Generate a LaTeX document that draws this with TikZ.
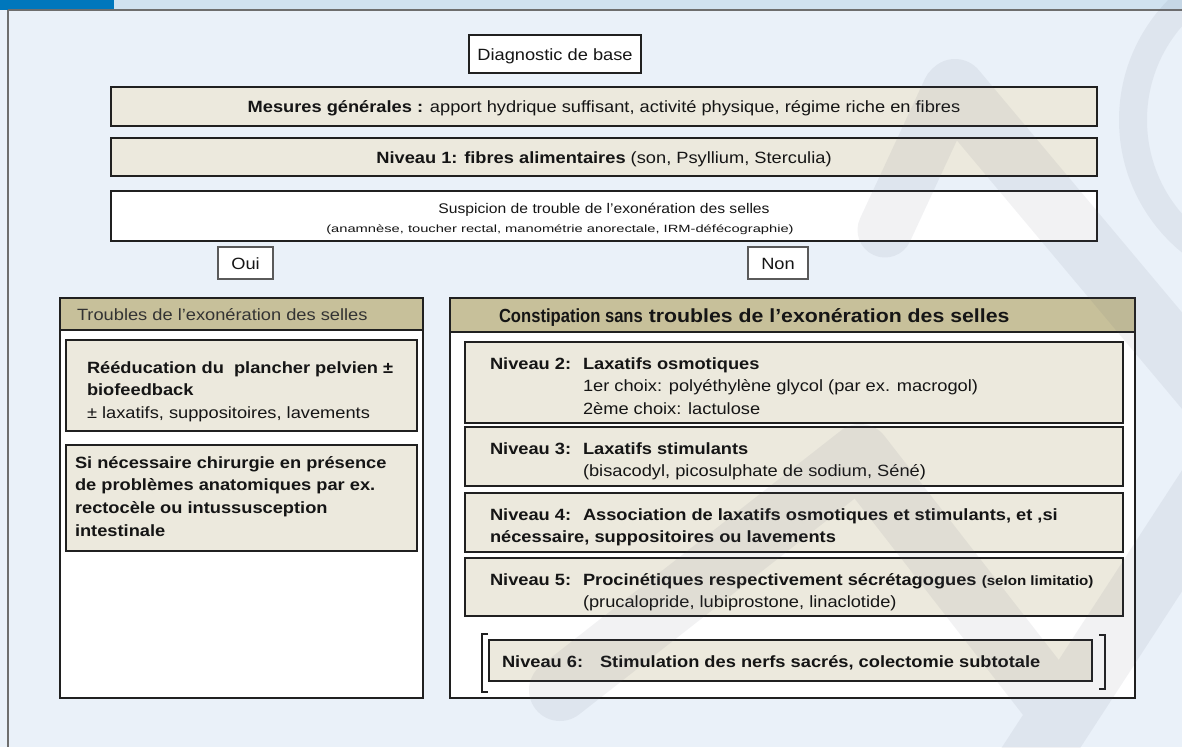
\documentclass[tikz,border=0pt]{standalone}
\usepackage{fontspec}
\setmainfont{Liberation Sans}[FakeStretch=1.12]
\usepackage{graphicx}
\definecolor{bg}{HTML}{EAF1F9}
\definecolor{topband}{HTML}{D0E2F0}
\definecolor{topblue}{HTML}{0077BC}
\definecolor{edge}{HTML}{6E6E6E}
\definecolor{boxline}{HTML}{202020}
\definecolor{cream}{HTML}{ECE9DD}
\definecolor{khaki}{HTML}{C7C09A}
\definecolor{textc}{HTML}{151515}
\definecolor{headtext}{HTML}{333333}
\definecolor{tagline}{HTML}{5A5A5A}
\definecolor{wmc}{HTML}{5C5C72}
\newcommand\mainsz{\fontsize{16.3}{22.5}\selectfont}
\newcommand\smallsz{\fontsize{10.5}{12}\selectfont}
\tikzset{
  frame/.style={draw=boxline, line width=2.2pt, inner sep=0pt, outer sep=0pt, anchor=north west},
  cbox/.style={frame, fill=cream},
  wbox/.style={frame, fill=white},
  hbox/.style={frame, fill=khaki},
  tagbox/.style={draw=tagline, line width=1.2pt, fill=white, inner sep=0pt, outer sep=0pt, anchor=north west},
  txt/.style={inner sep=0pt, outer sep=0pt, font=\mainsz, text=textc},
  lt/.style={txt, anchor=base west},
  bt/.style={txt, anchor=base west, font=\mainsz\bfseries},
  ct/.style={txt, anchor=base},
  bracketline/.style={draw=boxline, line width=2pt},
  wmark/.style={draw=wmc, line cap=round, line join=round}
}
\begin{document}
\begin{tikzpicture}[x=1pt,y=-1pt]
\useasboundingbox (0,0) rectangle (1182,747);
\fill[bg] (0,0) rectangle (1182,747);
% top band
\fill[topband] (0,0) rectangle (1182,10);
\fill[topblue] (0,0) rectangle (114,9.5);
\draw[edge, line width=1.5pt] (7.5,10) -- (1182,10);
\draw[edge, line width=2pt] (7.5,10) -- (7.5,747);

% upper boxes
\node[wbox, minimum width=172pt, minimum height=38pt] (diag) at (469,35) {};
\node[cbox, minimum width=986pt, minimum height=39pt] (mes) at (111,87) {};
\node[cbox, minimum width=986pt, minimum height=38pt] (niv1) at (111,138) {};
\node[wbox, minimum width=986pt, minimum height=50pt] (susp) at (111,191) {};
\node[tagbox, minimum width=55pt, minimum height=32pt] (oui) at (218,247) {};
\node[tagbox, minimum width=60pt, minimum height=32pt] (non) at (748,247) {};

\node[ct] (tdiag) at (555,60) {Diagnostic de base};
\node[ct] (tmes) at (604,112.5) {\textbf{Mesures générales :} apport hydrique suffisant, activité physique, régime riche en fibres};
\node[ct] (tniv1) at (604,163) {\textbf{Niveau 1: fibres alimentaires} (son, Psyllium, Sterculia)};
\node[ct, font=\fontsize{14}{17}\selectfont] (tsusp) at (604,213) {Suspicion de trouble de l’exonération des selles};
\node[ct, font=\smallsz] (tsusp2) at (560,232.5) {\scalebox{1.25}[1]{(anamnèse, toucher rectal, manométrie anorectale, IRM-défécographie)}};
\node[ct] (toui) at (245.5,269) {Oui};
\node[ct] (tnon) at (778,269) {Non};

% left panel
\node[wbox, minimum width=363pt, minimum height=400pt] (lpanel) at (60,298) {};
\node[hbox, minimum width=363pt, minimum height=32pt] (lhead) at (60,298) {};
\node[lt, text=headtext] (tlhead) at (77,320) {Troubles de l’exonération des selles};
\node[cbox, minimum width=351pt, minimum height=91pt] (lb1) at (66,340) {};
\node[cbox, minimum width=351pt, minimum height=106pt] (lb2) at (66,445) {};
\node[bt] (lb1a) at (87,373) {Rééducation du~ plancher pelvien ±};
\node[bt] (lb1b) at (87,395.5) {biofeedback};
\node[lt] (lb1c) at (87,418) {± laxatifs, suppositoires, lavements};
\node[bt] (lb2a) at (75,468) {Si nécessaire chirurgie en présence};
\node[bt] (lb2b) at (75,490.7) {de problèmes anatomiques par ex.};
\node[bt] (lb2c) at (75,513.4) {rectocèle ou intussusception};
\node[bt] (lb2d) at (75,536) {intestinale};

% right panel
\node[wbox, minimum width=685pt, minimum height=400pt] (rpanel) at (450,298) {};
\node[hbox, minimum width=685pt, minimum height=34pt] (rhead) at (450,298) {};
\node[lt, font=\fontsize{19}{22}\selectfont\bfseries] (trhead) at (499,322) {\scalebox{0.78}[1]{Constipation sans} troubles de l’exonération des selles};
\node[cbox, minimum width=658pt, minimum height=81pt] (n2) at (465,342) {};
\node[cbox, minimum width=658pt, minimum height=59pt] (n3) at (465,427) {};
\node[cbox, minimum width=658pt, minimum height=59pt] (n4) at (465,493) {};
\node[cbox, minimum width=658pt, minimum height=58pt] (n5) at (465,558) {};
\node[cbox, minimum width=603pt, minimum height=41pt] (n6) at (489,640) {};

\node[bt] (n2a) at (490,369) {Niveau 2:};
\node[bt] (n2b) at (583,369) {Laxatifs osmotiques};
\node[lt] (n2c) at (583,391.5) {1er choix: polyéthylène glycol (par ex. macrogol)};
\node[lt] (n2d) at (583,414) {2ème choix: lactulose};
\node[bt] (n3a) at (490,454.5) {Niveau 3:};
\node[bt] (n3b) at (583,454.5) {Laxatifs stimulants};
\node[lt] (n3c) at (583,476.5) {(bisacodyl, picosulphate de sodium, Séné)};
\node[bt] (n4a) at (490,520) {Niveau 4:};
\node[bt] (n4b) at (583,520) {Association de laxatifs osmotiques et stimulants, et ,si};
\node[bt] (n4c) at (490,542.5) {nécessaire, suppositoires ou lavements};
\node[bt] (n5a) at (490,585) {Niveau 5:};
\node[lt] (n5b) at (583,585) {\textbf{Procinétiques respectivement sécrétagogues} {\fontsize{13.5}{16}\selectfont\bfseries (selon limitatio)}};
\node[lt] (n5c) at (583,607) {(prucalopride, lubiprostone, linaclotide)};
\node[bt] (n6a) at (502,667) {Niveau 6:};
\node[bt] (n6b) at (600,667) {Stimulation des nerfs sacrés, colectomie subtotale};

% brackets
\draw[bracketline] (488,634) -- (482,634) -- (482,692) -- (488,692);
\draw[bracketline] (1099,635) -- (1105,635) -- (1105,689) -- (1099,689);

% watermark
\begin{scope}
\clip (0,0) rectangle (1182,747);
\begin{scope}[transparency group, opacity=0.08]
\draw[wmark, line width=28pt] (1290,120) circle [radius=157];
\draw[wmark, line width=62pt] (955,90) -- (1215,400);
\draw[wmark, line width=55pt] (950,90) -- (885,230);
\draw[wmark, line width=62pt] (560,690) -- (860,455) -- (1060,712);
\draw[wmark, line width=66pt] (1215,480) -- (1020,780);
\end{scope}
\end{scope}
\end{tikzpicture}
\end{document}
